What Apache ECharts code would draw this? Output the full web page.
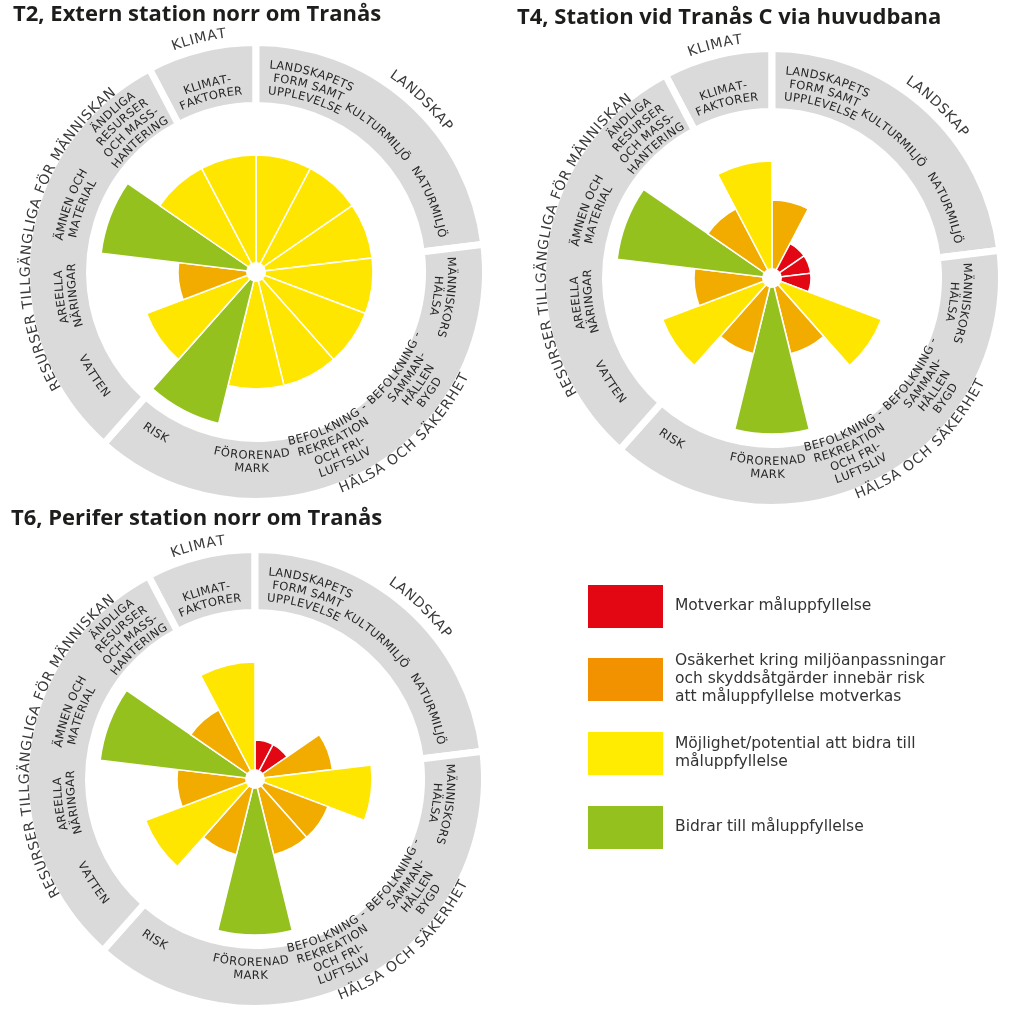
<!DOCTYPE html>
<html><head><meta charset="utf-8">
<script src="https://cdn.jsdelivr.net/npm/echarts@6/dist/echarts.min.js"></script>
<style>html,body{margin:0;padding:0;background:#fff}#c{width:1024px;height:1029px}</style>
</head><body><div id="c"></div>
<script>
// ---------- data ----------
const categories = ['Landskapets form samt upplevelse','Kulturmiljö','Naturmiljö','Människors hälsa',
  'Befolkning - sammanhållen bygd','Befolkning - rekreation och friluftsliv','Förorenad mark','Risk',
  'Vatten','Areella näringar','Ämnen och material','Ändliga resurser och masshantering','Klimatfaktorer'];
const groupNames = ['KLIMAT','LANDSKAP','HÄLSA OCH SÄKERHET','RESURSER TILLGÄNGLIGA FÖR MÄNNISKAN'];
const groupSizes = [1,3,5,4];
const chartTitles = ['T2, Extern station norr om Tranås','T4, Station vid Tranås C via huvudbana','T6, Perifer station norr om Tranås'];
// level: 1 = motverkar, 2 = osäkerhet, 3 = möjlighet, 4 = bidrar
const valuesT2 = [3,3,3,3,3,3,3,4,3,2,4,3,3];
const valuesT4 = [2,1,1,1,3,2,4,2,3,2,4,2,3];
const valuesT6 = [1,1,2,3,2,2,4,2,3,2,4,2,3];
const levelNames = ['Motverkar måluppfyllelse',
  'Osäkerhet kring miljöanpassningar\noch skyddsåtgärder innebär risk\natt måluppfyllelse motverkas',
  'Möjlighet/potential att bidra till\nmåluppfyllelse',
  'Bidrar till måluppfyllelse'];
const subLabels = [['LANDSKAPETS','FORM SAMT','UPPLEVELSE'],['KULTURMILJÖ'],['NATURMILJÖ'],['MÄNNISKORS','HÄLSA'],
  ['BEFOLKNING -','SAMMAN-','HÅLLEN','BYGD'],['BEFOLKNING -','REKREATION','OCH FRI-','LUFTSLIV'],
  ['FÖRORENAD','MARK'],['RISK'],['VATTEN'],['AREELLA','NÄRINGAR'],['ÄMNEN OCH','MATERIAL'],
  ['ÄNDLIGA','RESURSER','OCH MASS-','HANTERING'],['KLIMAT-','FAKTORER']];

// ---------- layout / style ----------
const allValues = [valuesT2, valuesT4, valuesT6];
const centers = [[256,272],[772,278],[255,779]];
const titlePos = [[13,4],[517,7],[11,508]];
const levelColors = ['#E30613','#F2AC00','#FFE600','#95C11F'];
const legendColors = ['#E30613','#F39200','#FFEC00','#95C11F'];
const subLayout = [
  {a:15.8,r:207,s:'top'},{a:41,r:188,s:'top'},{a:68,r:189,s:'top'},{a:97.5,r:195,s:'top'},
  {a:124.8,r:173,s:'bot'},{a:155,r:173,s:'bot'},{a:181.3,r:184,s:'bot'},{a:212,r:190,s:'bot'},
  {a:237.3,r:193.5,s:'bot'},{a:262.7,r:197,s:'top'},{a:290,r:199,s:'top'},{a:318.2,r:215,s:'top'},
  {a:345.5,r:194,s:'top'}];
const groupLayout = [{a:346.2,r:240,s:'top'},{a:43.9,r:240,s:'top'},{a:137.5,r:233,s:'bot'},{a:280.6,r:230,s:'top'}];
const LINE = 13;
const FONT = '"DejaVu Sans", sans-serif';

const mctx = document.createElement('canvas').getContext('2d');
function arcText(els, cx, cy, r, angDeg, text, size, style, color, spacing) {
  mctx.font = size + 'px ' + FONT;
  const chars = Array.from(text);
  const ws = chars.map(ch => mctx.measureText(ch).width);
  const total = ws.reduce((s, w) => s + w, 0) + spacing * (chars.length - 1);
  const dir = style === 'top' ? 1 : -1;
  const a0 = angDeg * Math.PI / 180 - dir * (total / r) / 2;
  let pos = 0;
  chars.forEach((ch, i) => {
    const a = a0 + dir * (pos + ws[i] / 2) / r;
    pos += ws[i] + spacing;
    if (ch === ' ') return;
    els.push({type:'text', x: cx + r * Math.sin(a), y: cy - r * Math.cos(a),
      rotation: style === 'top' ? -a : Math.PI - a, silent: true, z: 100,
      style: {text: ch, fontSize: size, fontFamily: FONT, fill: color, align: 'center', verticalAlign: 'middle'}});
  });
}

const els = [];
centers.forEach(([cx, cy]) => {
  subLabels.forEach((lines, k) => {
    const L = subLayout[k];
    lines.forEach((t, j) => {
      const r = L.s === 'top' ? L.r - j * LINE : L.r + j * LINE;
      arcText(els, cx, cy, r, L.a, t, 11.5, L.s, '#262626', 0.4);
    });
  });
  groupNames.forEach((g, k) => {
    const L = groupLayout[k];
    arcText(els, cx, cy, L.r, L.a, g, 14, L.s, '#3a3a3a', 0.8);
  });
  els.push({type:'circle', shape:{cx, cy, r:10}, style:{fill:'#fff'}, z:100, silent:true});
});

// legend
const legendTop = [585, 658, 732, 806];
levelNames.forEach((name, i) => {
  els.push({type:'rect', shape:{x:588, y:legendTop[i], width:75, height:43}, style:{fill:legendColors[i]}, z:100, silent:true});
  els.push({type:'text', x:675, y:legendTop[i] + 21, z:100, silent:true,
    style:{text:name, fontSize:15.5, fontFamily:FONT, fill:'#333', align:'left', verticalAlign:'middle', lineHeight:18}});
});

const ringStart = 90 + 360 / categories.length;
const option = {
  backgroundColor: '#fff',
  animation: false,
  title: chartTitles.map((t, i) => ({text: t, left: titlePos[i][0], top: titlePos[i][1], padding: 0,
    textStyle: {fontFamily: '"Open Sans"', fontWeight: 'bold', fontSize: 22, color: '#1d1d1b'}})),
  polar: centers.map(c => ({center: c, radius: [0, 156]})),
  angleAxis: centers.map((c, i) => ({polarIndex: i, type: 'category', data: categories, startAngle: 90, clockwise: true,
    axisLine:{show:false}, axisTick:{show:false}, axisLabel:{show:false}, splitLine:{show:false}})),
  radiusAxis: centers.map((c, i) => ({polarIndex: i, min: 0, max: 4,
    axisLine:{show:false}, axisTick:{show:false}, axisLabel:{show:false}, splitLine:{show:false}})),
  series: [].concat(
    centers.map((c, i) => ({type:'pie', center: c, radius: [166.5, 229.5], startAngle: ringStart, clockwise: true,
      data: groupSizes.map((v, k) => ({value: v, name: groupNames[k]})), label:{show:false}, labelLine:{show:false},
      itemStyle:{color:'#dadada', borderColor:'#fff', borderWidth:7}, silent: true, z: 1})),
    allValues.map((vals, i) => ({type:'bar', coordinateSystem:'polar', polarIndex: i, data: vals,
      barCategoryGap: '0%', silent: true, z: 2,
      itemStyle: {color: p => levelColors[p.value - 1], borderColor: '#fff', borderWidth: 1.5}}))
  ),
  graphic: {elements: els}
};
const chart = echarts.init(document.getElementById('c'));
chart.setOption(option);
</script></body></html>
